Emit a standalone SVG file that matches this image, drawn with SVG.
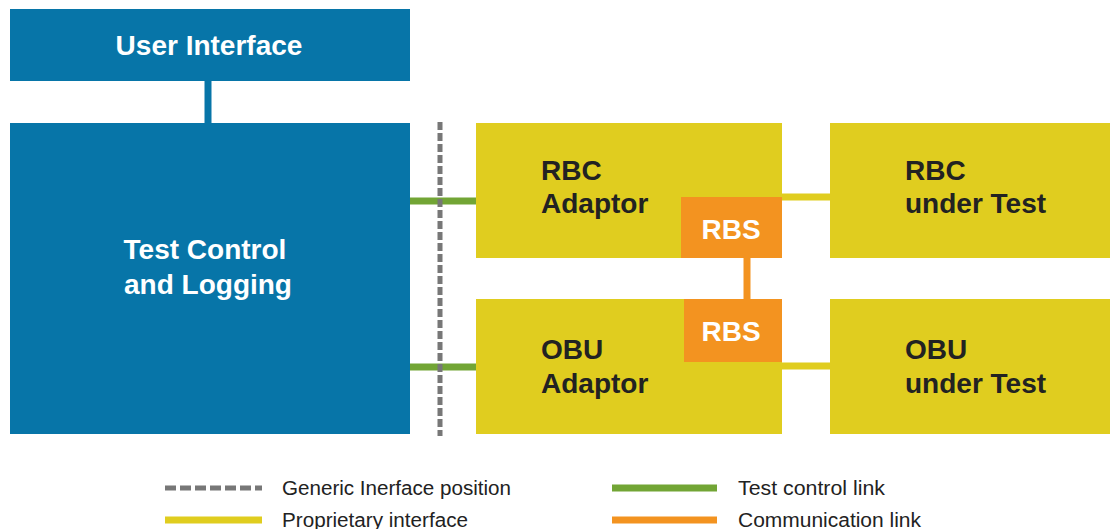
<svg xmlns="http://www.w3.org/2000/svg" width="1110" height="529" viewBox="0 0 1110 529">
<style>
.blue{fill:#0775A8}
.yel{fill:#E0CD1F}
.org{fill:#F39320}
.wt{fill:#fff;font-family:"Liberation Sans",Arial,sans-serif;font-weight:bold;font-size:28px}
.dk{fill:#222;font-family:"Liberation Sans",Arial,sans-serif;font-weight:bold;font-size:28px}
.lg{fill:#222;font-family:"Liberation Sans",Arial,sans-serif;font-size:20px}
</style>
<rect width="1110" height="529" fill="#fff"/>
<g id="connectors">
<line x1="208" y1="81" x2="208" y2="123" stroke="#0775A8" stroke-width="7"/>
<line x1="410" y1="201" x2="476" y2="201" stroke="#72A535" stroke-width="7"/>
<line x1="410" y1="367" x2="476" y2="367" stroke="#72A535" stroke-width="7"/>
<line x1="440" y1="122" x2="440" y2="436" stroke="#777" stroke-width="5" stroke-dasharray="8,3"/>
<line x1="747" y1="258" x2="747" y2="299" stroke="#F39320" stroke-width="7"/>
<line x1="778" y1="197" x2="830" y2="197" stroke="#E0CD1F" stroke-width="7"/>
<line x1="778" y1="366" x2="830" y2="366" stroke="#E0CD1F" stroke-width="7"/>
</g>
<g id="user-interface">
<rect x="10" y="9" width="400" height="72" class="blue"/>
<text x="209" y="55" class="wt" text-anchor="middle">User Interface</text>
</g>
<g id="test-control">
<rect x="10" y="123" width="400" height="311" class="blue"/>
<text x="205" y="259" class="wt" text-anchor="middle">Test Control</text>
<text x="208" y="294" class="wt" text-anchor="middle">and Logging</text>
</g>
<g id="rbc-adaptor">
<rect x="476" y="123" width="306" height="135" class="yel"/>
<text x="541" y="180" class="dk">RBC</text>
<text x="541" y="213" class="dk">Adaptor</text>
</g>
<g id="rbs-top">
<rect x="681" y="197" width="101" height="61" class="org"/>
<text x="731" y="239" class="wt" text-anchor="middle">RBS</text>
</g>
<g id="obu-adaptor">
<rect x="476" y="299" width="306" height="135" class="yel"/>
<text x="541" y="359" class="dk">OBU</text>
<text x="541" y="393" class="dk">Adaptor</text>
</g>
<g id="rbs-bottom">
<rect x="684" y="299" width="98" height="63" class="org"/>
<text x="731" y="341" class="wt" text-anchor="middle">RBS</text>
</g>
<g id="rbc-under-test">
<rect x="830" y="123" width="280" height="135" class="yel"/>
<text x="905" y="180" class="dk">RBC</text>
<text x="905" y="213" class="dk">under Test</text>
</g>
<g id="obu-under-test">
<rect x="830" y="299" width="280" height="135" class="yel"/>
<text x="905" y="359" class="dk">OBU</text>
<text x="905" y="393" class="dk">under Test</text>
</g>
<g id="legend">
<line x1="165" y1="488" x2="262" y2="488" stroke="#777" stroke-width="5" stroke-dasharray="11,4"/>
<text x="282" y="495" class="lg" textLength="229" lengthAdjust="spacingAndGlyphs">Generic Inerface position</text>
<line x1="612" y1="488" x2="717" y2="488" stroke="#72A535" stroke-width="7"/>
<text x="738" y="495" class="lg" textLength="147" lengthAdjust="spacingAndGlyphs">Test control link</text>
<line x1="165" y1="520" x2="262" y2="520" stroke="#E0CD1F" stroke-width="7"/>
<text x="282" y="527" class="lg" textLength="186" lengthAdjust="spacingAndGlyphs">Proprietary interface</text>
<line x1="612" y1="520" x2="717" y2="520" stroke="#F39320" stroke-width="7"/>
<text x="738" y="527" class="lg" textLength="183" lengthAdjust="spacingAndGlyphs">Communication link</text>
</g>
</svg>
